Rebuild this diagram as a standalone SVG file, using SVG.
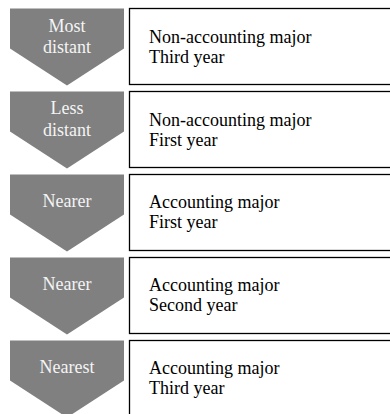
<svg xmlns="http://www.w3.org/2000/svg" width="390" height="414" viewBox="0 0 390 414">
<style>
.arr{fill:#808080}
.box{fill:#fff;stroke:#000;stroke-width:1.3}
.lbl{font-family:"Liberation Serif","Times New Roman",serif;font-size:18px;fill:#f4f4f4;text-anchor:middle}
.txt{font-family:"Liberation Serif","Times New Roman",serif;font-size:18px;fill:#000}
</style>
<rect width="390" height="414" fill="#fff"/>
<g id="connectors"/>
<g id="row1">
<polygon class="arr" points="10,8.5 124,8.5 124,48.5 67,85.5 10,48.5"/>
<text class="lbl" x="67" y="32">Most</text>
<text class="lbl" x="67" y="53">distant</text>
<rect class="box" x="129.5" y="8.5" width="270" height="76"/>
<text class="txt" x="149" y="43">Non-accounting major</text>
<text class="txt" x="149" y="63">Third year</text>
</g>
<g id="row2">
<polygon class="arr" points="10,91.5 124,91.5 124,131.5 67,168.5 10,131.5"/>
<text class="lbl" x="67" y="114">Less</text>
<text class="lbl" x="67" y="136">distant</text>
<rect class="box" x="129.5" y="91.5" width="270" height="76"/>
<text class="txt" x="149" y="126">Non-accounting major</text>
<text class="txt" x="149" y="146">First year</text>
</g>
<g id="row3">
<polygon class="arr" points="10,174.5 124,174.5 124,214.5 67,251.5 10,214.5"/>
<text class="lbl" x="67" y="207">Nearer</text>
<rect class="box" x="129.5" y="174.5" width="270" height="76"/>
<text class="txt" x="149" y="208">Accounting major</text>
<text class="txt" x="149" y="228">First year</text>
</g>
<g id="row4">
<polygon class="arr" points="10,257.5 124,257.5 124,297.5 67,334.5 10,297.5"/>
<text class="lbl" x="67" y="290">Nearer</text>
<rect class="box" x="129.5" y="257.5" width="270" height="76"/>
<text class="txt" x="149" y="291">Accounting major</text>
<text class="txt" x="149" y="311">Second year</text>
</g>
<g id="row5">
<polygon class="arr" points="10,340.5 124,340.5 124,380.5 67,417.5 10,380.5"/>
<text class="lbl" x="67" y="373">Nearest</text>
<rect class="box" x="129.5" y="340.5" width="270" height="76"/>
<text class="txt" x="149" y="374">Accounting major</text>
<text class="txt" x="149" y="394">Third year</text>
</g>
</svg>
